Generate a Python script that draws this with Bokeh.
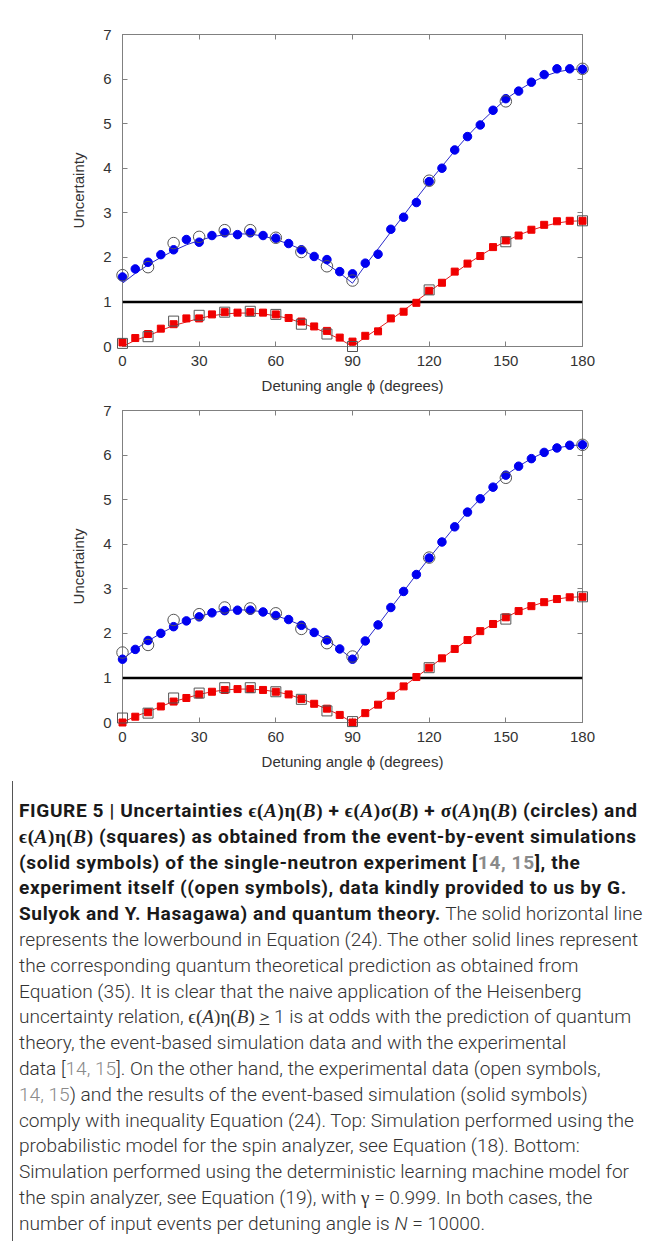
from bokeh.plotting import figure
from bokeh.models import LinearAxis, FixedTicker, Range1d, Div, Span
from bokeh.layouts import column
from bokeh.embed import file_html
from bokeh.resources import INLINE

# ---------------- data ----------------
angles = list(range(0, 181, 5))
exp_angles = [0, 10, 20, 30, 40, 50, 60, 70, 80, 90, 120, 150, 180]
x_ticks = [0, 30, 60, 90, 120, 150, 180]
y_ticks = [0, 1, 2, 3, 4, 5, 6, 7]
lower_bound = 1

theory_circles = [1.42, 1.64, 1.83, 2.00, 2.15, 2.28, 2.38, 2.46, 2.51, 2.53,
                  2.52, 2.48, 2.40, 2.30, 2.18, 2.02, 1.85, 1.65, 1.42,
                  1.82, 2.19, 2.57, 2.94, 3.32, 3.69, 4.04, 4.39, 4.72, 5.02,
                  5.29, 5.55, 5.75, 5.92, 6.06, 6.16, 6.21, 6.23]
theory_squares = [0.00, 0.14, 0.24, 0.36, 0.47, 0.55, 0.63, 0.69, 0.73, 0.75,
                  0.75, 0.73, 0.69, 0.63, 0.53, 0.42, 0.30, 0.17, 0.00,
                  0.21, 0.40, 0.60, 0.81, 1.02, 1.23, 1.44, 1.65, 1.85, 2.04,
                  2.21, 2.36, 2.50, 2.61, 2.70, 2.77, 2.81, 2.82]

top_sim_circles = [1.56, 1.74, 1.89, 2.06, 2.17, 2.40, 2.34, 2.49, 2.55, 2.51,
                   2.55, 2.49, 2.43, 2.31, 2.17, 2.02, 1.95, 1.68, 1.63,
                   1.87, 2.07, 2.63, 2.90, 3.23, 3.70, 4.00, 4.41, 4.71, 4.97,
                   5.30, 5.56, 5.73, 5.93, 6.10, 6.23, 6.23, 6.22]
top_exp_circles = [1.60, 1.78, 2.32, 2.46, 2.61, 2.61, 2.44, 2.12, 1.80, 1.48,
                   3.72, 5.50, 6.23]
top_sim_squares = [0.09, 0.19, 0.28, 0.40, 0.50, 0.63, 0.63, 0.72, 0.77, 0.76,
                   0.77, 0.76, 0.72, 0.64, 0.56, 0.45, 0.35, 0.20, 0.11,
                   0.24, 0.34, 0.63, 0.78, 0.98, 1.25, 1.43, 1.68, 1.86, 2.03,
                   2.23, 2.38, 2.49, 2.62, 2.73, 2.81, 2.82, 2.82]
top_exp_squares = [0.07, 0.22, 0.57, 0.70, 0.77, 0.79, 0.72, 0.50, 0.28, 0.00,
                   1.27, 2.35, 2.82]

bot_sim_circles = [1.42, 1.64, 1.84, 2.00, 2.15, 2.28, 2.37, 2.46, 2.51, 2.52,
                   2.52, 2.48, 2.40, 2.31, 2.18, 2.02, 1.85, 1.65, 1.42,
                   1.83, 2.19, 2.58, 2.94, 3.32, 3.69, 4.05, 4.39, 4.72, 5.02,
                   5.28, 5.55, 5.75, 5.92, 6.06, 6.16, 6.22, 6.23]
bot_exp_circles = [1.57, 1.74, 2.30, 2.43, 2.58, 2.56, 2.45, 2.10, 1.78, 1.48,
                   3.70, 5.49, 6.23]
bot_sim_squares = [0.00, 0.13, 0.23, 0.36, 0.47, 0.55, 0.63, 0.69, 0.73, 0.75,
                   0.75, 0.73, 0.69, 0.63, 0.53, 0.42, 0.31, 0.17, 0.00,
                   0.21, 0.40, 0.60, 0.81, 1.02, 1.23, 1.44, 1.65, 1.85, 2.05,
                   2.21, 2.36, 2.50, 2.61, 2.70, 2.77, 2.81, 2.82]
bot_exp_squares = [0.10, 0.21, 0.55, 0.66, 0.78, 0.78, 0.69, 0.52, 0.26, 0.02,
                   1.23, 2.32, 2.82]

x_title = "Detuning angle \u03d5 (degrees)"
y_title = "Uncertainty"

# ---------------- styles ----------------
FRAME = "#808080"
TXT = "#333333"
FONT = "Liberation Sans"
BLUE = "#0000f0"
RED = "#f00000"
OPEN = "#555555"
W = 653


def make_plot(sim_c, exp_c, sim_s, exp_s, height, btop, bbot):
    p = figure(width=W, height=height, x_range=Range1d(0, 180),
               y_range=Range1d(0, 7), output_backend="svg",
               toolbar_location=None, min_border_left=122,
               min_border_right=W - 582, min_border_top=btop,
               min_border_bottom=bbot, outline_line_color=FRAME,
               outline_line_width=1, background_fill_color="white",
               border_fill_color="white")
    p.xgrid.visible = False
    p.ygrid.visible = False

    for ax in (p.xaxis[0], p.yaxis[0]):
        ax.major_tick_in = 5
        ax.major_tick_out = 0
        ax.minor_tick_line_color = None
        ax.axis_line_color = FRAME
        ax.major_tick_line_color = FRAME
        ax.major_label_text_font = FONT
        ax.major_label_text_font_size = "15px"
        ax.major_label_text_color = TXT
        ax.axis_label_text_font = FONT
        ax.axis_label_text_font_size = "15px"
        ax.axis_label_text_font_style = "normal"
        ax.axis_label_text_color = TXT
    p.xaxis[0].ticker = FixedTicker(ticks=x_ticks)
    p.yaxis[0].ticker = FixedTicker(ticks=y_ticks)
    p.xaxis[0].axis_label = x_title
    p.yaxis[0].axis_label = y_title
    p.xaxis[0].major_label_standoff = 9
    p.xaxis[0].axis_label_standoff = 8
    p.yaxis[0].major_label_standoff = 11
    p.yaxis[0].axis_label_standoff = 13

    for side, tk in (("above", x_ticks), ("right", y_ticks)):
        ax = LinearAxis(ticker=FixedTicker(ticks=tk), major_tick_in=5,
                        major_tick_out=0, minor_tick_line_color=None,
                        axis_line_color=FRAME, major_tick_line_color=FRAME,
                        major_label_text_font_size="1px",
                        major_label_text_color=None, major_label_standoff=0)
        p.add_layout(ax, side)

    p.add_layout(Span(location=lower_bound, dimension="width",
                      line_color="black", line_width=2.5))

    p.line(angles, theory_circles, line_color="#2a2ac8", line_width=1)
    p.line(angles, theory_squares, line_color="#e02020", line_width=1)

    p.scatter(angles, sim_c, marker="circle", size=8.5, fill_color=BLUE,
              line_color=BLUE, level="overlay")
    p.scatter(angles, sim_s, marker="square", size=7, fill_color=RED,
              line_color=RED, level="overlay")
    p.scatter(exp_angles, exp_c, marker="circle", size=11.5, fill_color=None,
              line_color=OPEN, line_width=1, level="overlay")
    p.scatter(exp_angles, exp_s, marker="square", size=10, fill_color=None,
              line_color=OPEN, line_width=1, level="overlay")
    return p


p1 = make_plot(top_sim_circles, top_exp_circles, top_sim_squares,
               top_exp_squares, 400, 34, 54)
p2 = make_plot(bot_sim_circles, bot_exp_circles, bot_sim_squares,
               bot_exp_squares, 376, 10, 54)

M = "font-family:'Liberation Serif','DejaVu Serif',serif;"
G = "color:#8a8a8a;"


def eps_eta(bold=True):
    w = "font-weight:bold;" if bold else ""
    return (f"<span style=\"{M}{w}\">\u03f5(<i>A</i>)\u03b7(<i>B</i>)</span>")


def sym(s, bold=True):
    w = "font-weight:bold;" if bold else ""
    return f"<span style=\"{M}{w}\">{s}</span>"


BS = "<b style=\"letter-spacing:0.6px;color:#1a1a1a;font-weight:bold;\">"

bold_lines = [
    "FIGURE 5 | Uncertainties " + eps_eta() + " + "
    + sym("\u03f5(<i>A</i>)\u03c3(<i>B</i>)") + " + "
    + sym("\u03c3(<i>A</i>)\u03b7(<i>B</i>)") + " (circles) and",
    eps_eta() + " (squares) as obtained from the event-by-event simulations",
    "(solid symbols) of the single-neutron experiment [<span style=\"" + G
    + "\">14, 15</span>], the",
    "experiment itself ((open symbols), data kindly provided to us by G.",
]
line5 = (BS + "Sulyok and Y. Hasagawa) and quantum theory.</b> "
         "The solid horizontal line")
plain_lines = [
    "represents the lowerbound in Equation (24). The other solid lines represent",
    "the corresponding quantum theoretical prediction as obtained from",
    "Equation (35). It is clear that the naive application of the Heisenberg",
    "uncertainty relation, " + eps_eta(False)
    + " <u>&gt;</u> 1 is at odds with the prediction of quantum",
    "theory, the event-based simulation data and with the experimental",
    "data [<span style=\"" + G + "\">14, 15</span>]. On the other hand, "
    "the experimental data (open symbols,",
    "<span style=\"" + G + "\">14, 15</span>) and the results of the "
    "event-based simulation (solid symbols)",
    "comply with inequality Equation (24). Top: Simulation performed using the",
    "probabilistic model for the spin analyzer, see Equation (18). Bottom:",
    "Simulation performed using the deterministic learning machine model for",
    "the spin analyzer, see Equation (19), with " + sym("\u03b3", False)
    + " = 0.999. In both cases, the",
    "number of input events per detuning angle is <i>N</i> = 10000.",
]

html_lines = [BS + s + "</b>" for s in bold_lines] + [line5] + plain_lines
caption_html = (
    "<div style=\"margin-left:7px;border-left:1px solid #555;"
    "font-family:'Roboto',sans-serif;font-weight:300;"
    "font-size:19.1px;line-height:25.8px;color:#333;white-space:nowrap;"
    "padding:17px 0 4px 6px;\">" + "<br>".join(html_lines) + "</div>"
)
caption = Div(text=caption_html, width=W, height=460)

layout = column(p1, p2, caption, spacing=0)

open("out.html", "w").write(file_html(layout, INLINE))
